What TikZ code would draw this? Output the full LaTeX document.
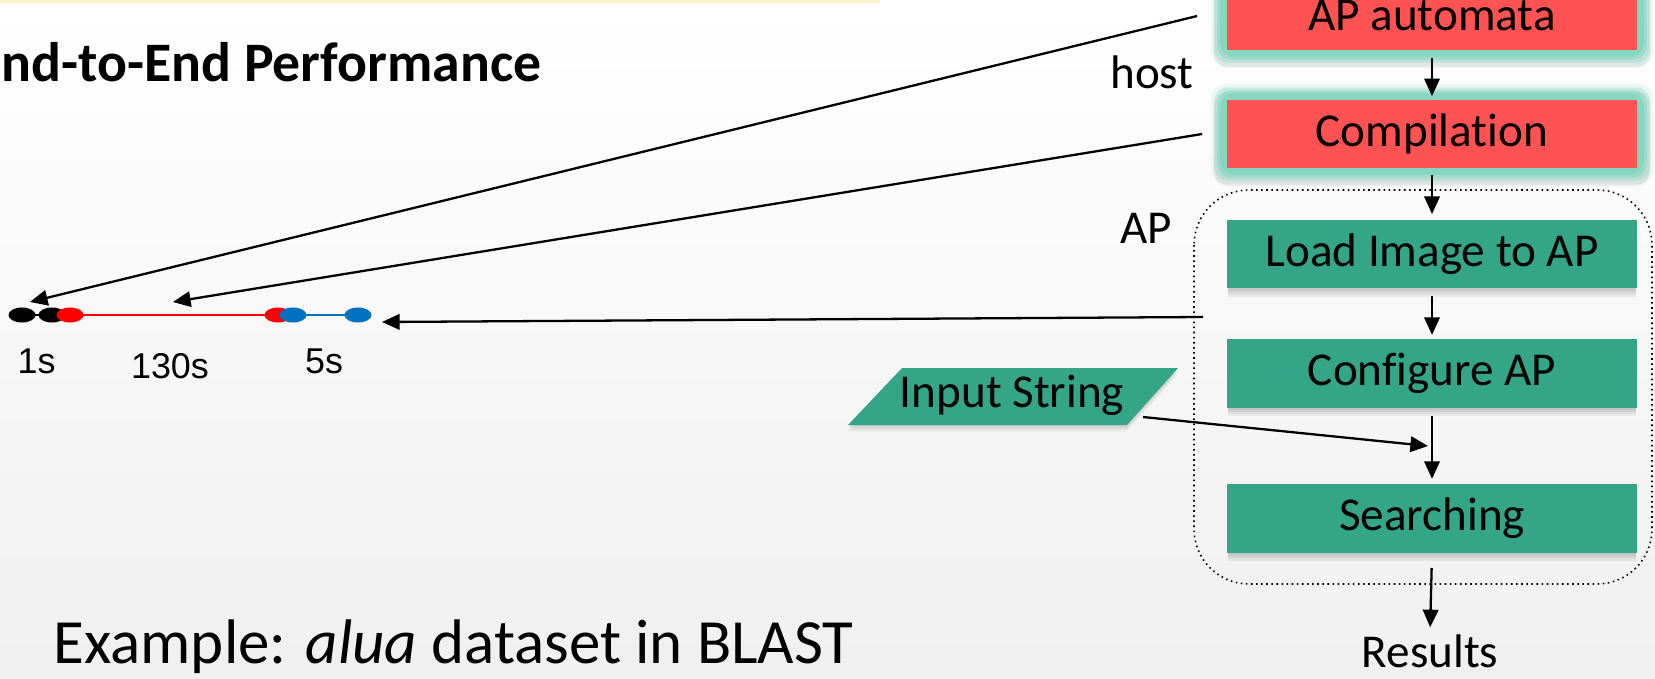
\documentclass[tikz,border=0pt]{standalone}
\usepackage{fontspec}
\setmainfont{Carlito}[Ligatures=NoCommon]
\newfontfamily\arialfont{Liberation Sans}
\usetikzlibrary{arrows.meta,shapes.geometric}
\definecolor{apred}{RGB}{255,82,82}
\definecolor{apglow}{RGB}{128,214,190}
\definecolor{apgreen}{RGB}{52,165,135}
\definecolor{banner}{RGB}{253,241,204}
\definecolor{tlblue}{RGB}{0,112,192}
\pgfdeclarelayer{bg}
\pgfdeclarelayer{under}
\pgfsetlayers{bg,under,main}
\begin{document}
\begin{tikzpicture}[x=0.01cm, y=-0.01cm,
  stage/.style={rectangle, minimum width=4.1cm, minimum height=0.68cm, inner sep=0pt,
                font=\fontsize{13.4pt}{16pt}\selectfont},
  hoststage/.style={stage, fill=apred},
  apstage/.style={stage, fill=apgreen},
  plaintext/.style={font=\fontsize{13.4pt}{16pt}\selectfont, inner sep=0pt, anchor=base},
  flow/.style={line width=0.65pt, -{Triangle[length=5pt,width=4.4pt]}},
  tdot/.style={ellipse, minimum width=0.27cm, minimum height=0.15cm, inner sep=0pt},
  timelbl/.style={font=\arialfont\fontsize{10.2pt}{12pt}\selectfont, inner sep=0pt, anchor=base},
]
% page background
\begin{pgfonlayer}{bg}
  \shade[top color=white, bottom color=black!6] (0,0) rectangle (1655,679);
  \fill[banner] (0,0) rectangle (880,3);
\end{pgfonlayer}
\useasboundingbox (0,0) rectangle (1655,679);

% headings
\node[anchor=base west, inner sep=0pt, font=\bfseries\fontsize{15.85pt}{18pt}\selectfont] (title) at (1,82) {nd-to-End Performance};
\node[anchor=base west, inner sep=0pt, font=\fontsize{17.9pt}{21pt}\selectfont] (example) at (53,663) {Example: \textit{alua} dataset in BLAST};

% group frame around the AP stages
\draw[densely dotted, line width=0.45pt, rounded corners=0.55cm] (1194,190) rectangle (1652,584);

% pipeline stages
\node[hoststage] (automata) at (1432,16) {AP automata};
\node[hoststage] (compile) at (1432,134) {Compilation};
\node[apstage] (load) at (1432,254) {Load Image to AP};
\node[apstage] (config) at (1432,373.5) {Configure AP};
\node[apstage] (search) at (1432,518.5) {Searching};

\node[plaintext] (hostlbl) at (1152,89) {host};
\node[plaintext] (aplbl) at (1146,243) {AP};
\node[plaintext] (results) at (1430,667) {Results};

% input parallelogram
\begin{pgfonlayer}{under}
  \foreach \d in {2,4,6}{
    \fill[black, opacity=0.05] (902,368+\d) -- (1178,368+\d) -- (1127,425+\d) -- (848,425+\d) -- cycle;
  }
\end{pgfonlayer}
\fill[apgreen] (902,368) -- (1178,368) -- (1127,425) -- (848,425) -- cycle;
\node[plaintext] (input) at (1012,407) {Input String};

% glow and shadows behind the stages
\begin{pgfonlayer}{under}
  \foreach \n in {automata,compile}{
    \fill[black, opacity=0.08, rounded corners=4pt]
      ([shift={(-0.12cm,0.08cm)}]\n.north west) rectangle ([shift={(0.12cm,-0.17cm)}]\n.south east);
    \foreach \d/\o in {15/0.15,12/0.3,9/0.5,6/0.8}{
      \fill[apglow, opacity=\o, rounded corners=4pt]
        ([shift={(-\d*0.01cm,\d*0.01cm)}]\n.north west) rectangle ([shift={(\d*0.01cm,-\d*0.01cm)}]\n.south east);
    }
  }
  \foreach \n in {load,config,search}{
    \foreach \d in {2,4,6,8}{
      \fill[black, opacity=0.05]
        ([shift={(0.02cm,-\d*0.01cm)}]\n.north west) rectangle ([shift={(-0.02cm,-\d*0.01cm)}]\n.south east);
    }
  }
\end{pgfonlayer}

% flow between stages
\draw[flow, shorten <=2.2pt, shorten >=0.9pt] (automata.south) -- (compile.north);
\draw[flow, shorten <=1.7pt, shorten >=1.5pt] (compile.south) -- (load.north);
\draw[flow, shorten <=2.2pt, shorten >=1.1pt] (load.south) -- (config.north);
\draw[flow, shorten <=2.2pt, shorten >=1.4pt] (config.south) -- (search.north);
\draw[flow, shorten <=4.2pt, shorten >=1.8pt] (search.south) -- (results.north);

\coordinate (inTail) at (1143,417);
\coordinate (inHead) at (1428,446);
\draw[flow] (inTail) -- (inHead);

% timeline
\node[tdot, fill=black] (b1) at (22,315) {};
\node[tdot, fill=black] (b2) at (52,315) {};
\node[tdot, fill=red] (r1) at (70,315) {};
\node[tdot, fill=red] (r2) at (278,315) {};
\node[tdot, fill=tlblue] (u1) at (293,315) {};
\node[tdot, fill=tlblue] (u2) at (358,315) {};
\begin{pgfonlayer}{under}
  \draw[line width=0.6pt] (b1.center) -- (b2.center);
  \draw[line width=0.6pt, red] (r1.center) -- (r2.center);
  \draw[line width=0.6pt, tlblue] (u1.center) -- (u2.center);
\end{pgfonlayer}

\node[timelbl] (l1) at (36.5,373) {1s};
\node[timelbl] (l2) at (170,378) {130s};
\node[timelbl] (l3) at (324,373) {5s};

% stages mapped onto the timeline
\coordinate (tip1) at (30,302);
\coordinate (tip2) at (173,302);
\coordinate (tip3) at (382,322);
\coordinate (apside) at (1203,317);
\draw[flow] ([xshift=-0.29cm]automata.west) -- (tip1);
\draw[flow] ([xshift=-0.24cm]compile.west) -- (tip2);
\draw[flow] (apside) -- (tip3);
\end{tikzpicture}
\end{document}
